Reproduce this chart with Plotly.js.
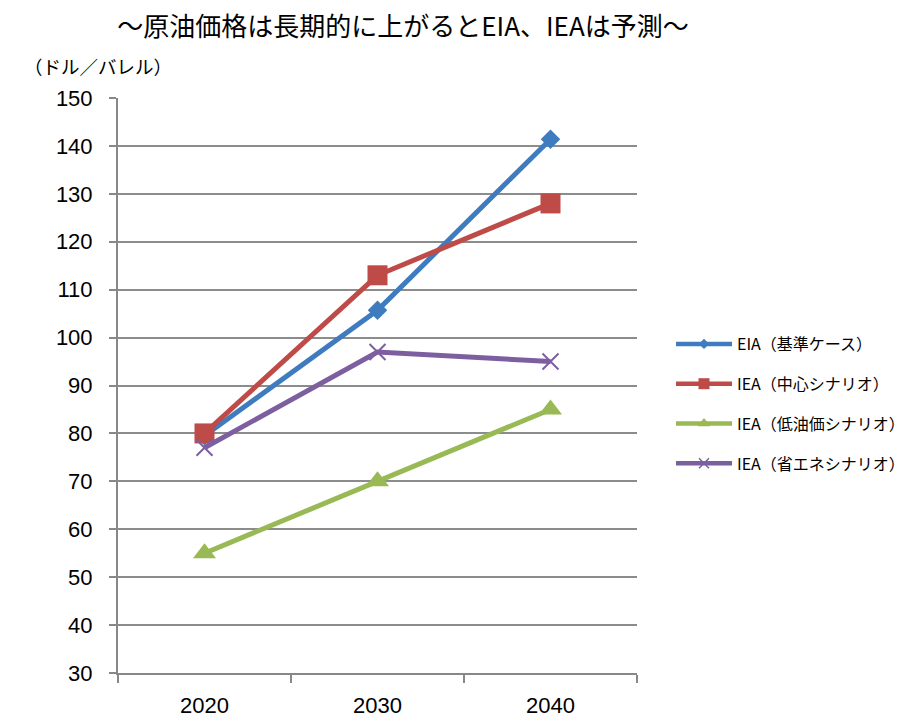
<!DOCTYPE html>
<html>
<head>
<meta charset="utf-8">
<script src="https://cdn.plot.ly/plotly-3.0.1.min.js"></script>
<style>html,body{margin:0;padding:0;background:#fff;}#chart{width:905px;height:728px;}</style>
</head>
<body>
<div id="chart"></div>
<script>
const years = ["2020", "2030", "2040"];
const eiaBase = [79.5, 105.7, 141.4];
const ieaCentral = [80, 113, 128];
const ieaLowPrice = [55, 70, 85];
const ieaEnergySaving = [77, 97, 95];
const seriesNames = ["EIA（基準ケース）", "IEA（中心シナリオ）", "IEA（低油価シナリオ）", "IEA（省エネシナリオ）"];
const chartTitle = "～原油価格は長期的に上がるとEIA、IEAは予測～";
const yUnit = "（ドル／バレル）";

const colors = ["#3F7CBF", "#BE4B48", "#98B954", "#7D5FA0"];
const symbols = ["diamond", "square", "triangle-up", "x-thin"];
const sizes = [15, 20, 20, 16];
const legendSizes = [8, 11, 11, 10];
const series = [eiaBase, ieaCentral, ieaLowPrice, ieaEnergySaving];

const traces = series.map((vals, i) => ({
  type: "scatter",
  mode: "lines+markers",
  x: years,
  y: vals,
  name: seriesNames[i],
  showlegend: false,
  line: {color: colors[i], width: 5},
  marker: {
    symbol: symbols[i], size: sizes[i], color: colors[i],
    line: {color: colors[i], width: i === 3 ? 2 : 0}
  }
}));

// legend entries (smaller markers, as in the original legend)
series.forEach((vals, i) => {
  traces.push({
    type: "scatter",
    mode: "lines+markers",
    x: [years[0]],
    y: [null],
    name: seriesNames[i],
    legendgroup: "g" + i,
    showlegend: true,
    hoverinfo: "skip",
    line: {color: colors[i], width: 4.5},
    marker: {
      symbol: symbols[i], size: legendSizes[i], color: colors[i],
      line: {color: colors[i], width: i === 3 ? 1.5 : 0}
    }
  });
});

const layout = {
  width: 905, height: 728,
  margin: {l: 118, r: 268, t: 98, b: 55, autoexpand: false},
  paper_bgcolor: "#fff", plot_bgcolor: "#fff",
  font: {family: "Liberation Sans, Noto Sans CJK JP, sans-serif", color: "#000"},
  title: {
    text: chartTitle,
    font: {family: "Noto Sans CJK JP", size: 26, color: "#000"},
    x: 403 / 905, xref: "container", xanchor: "center",
    y: 1 - 27 / 728, yref: "container", yanchor: "middle"
  },
  xaxis: {
    type: "category",
    range: [-0.5, 2.5],
    showline: true, linecolor: "#888", linewidth: 2,
    ticks: "outside", tickson: "boundaries", ticklen: 8, tickcolor: "#888", tickwidth: 2,
    showgrid: false, zeroline: false,
    tickfont: {family: "Liberation Sans", size: 22, color: "#000"},
    ticklabelstandoff: 12,
    automargin: false,
    fixedrange: true
  },
  yaxis: {
    range: [30, 150],
    tickvals: [30, 40, 50, 60, 70, 80, 90, 100, 110, 120, 130, 140, 150],
    showline: true, linecolor: "#888", linewidth: 2,
    ticks: "outside", ticklen: 7, tickcolor: "#888", tickwidth: 2,
    showgrid: true, gridcolor: "#8C8C8C", gridwidth: 2,
    zeroline: false,
    tickfont: {family: "Liberation Sans", size: 22, color: "#000"},
    ticklabelstandoff: 12,
    automargin: false,
    fixedrange: true
  },
  legend: {
    x: (671 - 118) / 519, xanchor: "left",
    y: (673 - 327) / 575, yanchor: "top",
    font: {family: "Noto Sans CJK JP", size: 16, color: "#000"},
    itemwidth: 56,
    traceorder: "grouped",
    tracegroupgap: 16,
    bgcolor: "rgba(0,0,0,0)"
  },
  annotations: [{
    text: yUnit,
    xref: "paper", yref: "paper",
    x: (22 - 118) / 519, xanchor: "left",
    y: (673 - 66) / 575, yanchor: "middle",
    showarrow: false,
    font: {family: "Noto Sans CJK JP", size: 18.5, color: "#000"}
  }],
  showlegend: true
};

Plotly.newPlot("chart", traces, layout, {displayModeBar: false, staticPlot: true});
</script>
</body>
</html>
